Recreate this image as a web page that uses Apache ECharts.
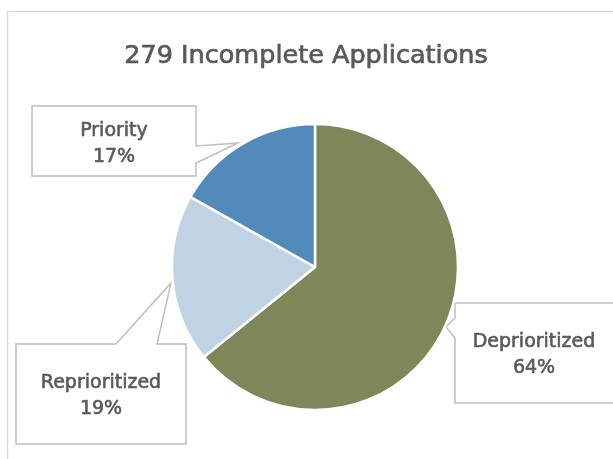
<!DOCTYPE html>
<html>
<head>
<meta charset="utf-8">
<script src="https://cdn.jsdelivr.net/npm/echarts@6/dist/echarts.min.js"></script>
<style>
html,body{margin:0;padding:0;background:#fff;}
#chart{width:613px;height:459px;}
</style>
</head>
<body>
<div id="chart"></div>
<script>
const titleText = '279 Incomplete Applications';
const categories = ['Deprioritized', 'Reprioritized', 'Priority'];
const counts = [179, 53, 47];
const colors = ['#7F865A', '#C0D3E5', '#528BBA'];

// label anchor (centre of each callout box)
const labelPos = [[534, 355], [101, 396], [114, 144]];
// callout outlines
const callouts = [
  [[455,303],[630,303],[630,403],[455,403],[455,338],[446,327],[455,318]],
  [[16,344],[116,344],[171,283],[157,344],[186,344],[186,444],[16,444]],
  [[32,106],[196,106],[196,146],[238,143],[196,163],[196,176],[32,176]]
];

const chart = echarts.init(document.getElementById('chart'), null, {renderer: 'canvas'});

const graphics = [
  {type: 'polyline', z: 0, shape: {points: [[7.5, 470], [7.5, 11.5], [620, 11.5]]},
   style: {stroke: '#D9D9D9', lineWidth: 1.5, fill: null}}
];
callouts.forEach(pts => graphics.push({
  type: 'polygon', z: 1, shape: {points: pts},
  style: {fill: '#fff', stroke: '#BFBFBF', lineWidth: 1.5}
}));

chart.setOption({
  backgroundColor: '#fff',
  title: {
    text: titleText,
    left: 301, top: 38, textAlign: 'center',
    textStyle: {fontFamily: 'DejaVu Sans', fontSize: 25.5, fontWeight: 'normal', color: '#595959',
      textBorderColor: '#595959', textBorderWidth: 0.7}
  },
  graphic: graphics,
  series: [{
    type: 'pie',
    z: 3,
    center: [315, 267],
    radius: 143,
    startAngle: 90,
    clockwise: true,
    percentPrecision: 0,
    animation: false,
    itemStyle: {borderColor: '#fff', borderWidth: 2.5},
    label: {
      show: true,
      position: 'inside',
      formatter: '{b}\n{d}%',
      fontFamily: 'DejaVu Sans',
      fontWeight: 'normal',
      fontSize: 19,
      lineHeight: 26,
      color: '#595959',
      textBorderColor: '#595959',
      textBorderWidth: 0.6,
      align: 'center',
      overflow: 'none'
    },
    labelLine: {show: false},
    labelLayout: function (p) {
      const pos = labelPos[p.dataIndex];
      return {x: pos[0], y: pos[1], align: 'center', verticalAlign: 'middle', hideOverlap: false};
    },
    emphasis: {disabled: true},
    data: categories.map((c, i) => ({name: c, value: counts[i], itemStyle: {color: colors[i]}}))
  }]
});
</script>
</body>
</html>
